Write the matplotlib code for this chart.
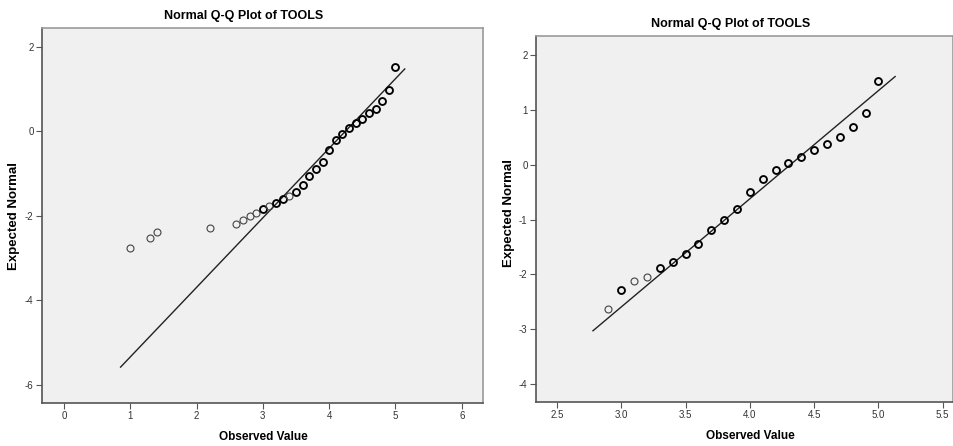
import matplotlib
matplotlib.use("Agg")
import matplotlib.pyplot as plt

plt.rcParams['font.family'] = ['Liberation Sans Narrow', 'Liberation Sans', 'DejaVu Sans']
plt.rcParams['axes.unicode_minus'] = False

# left panel: observed values / expected normal
left_x = [1.0, 1.3, 1.4, 2.2, 2.6, 2.7, 2.8, 2.9, 3.0, 3.1, 3.2, 3.3, 3.4, 3.5, 3.6,
          3.7, 3.8, 3.9, 4.0, 4.1, 4.2, 4.3, 4.4, 4.5, 4.6, 4.7, 4.8, 4.9, 5.0]
left_y = [-2.77, -2.53, -2.39, -2.28, -2.19, -2.09, -2.01, -1.93, -1.84, -1.76, -1.70,
          -1.61, -1.53, -1.43, -1.27, -1.06, -0.88, -0.73, -0.44, -0.20, -0.05, 0.08,
          0.19, 0.30, 0.43, 0.54, 0.71, 0.98, 1.53]
left_bold = [False, False, False, False, False, False, False, False, True, False, True,
             True, False, True, True, True, True, True, True, True, True, True,
             True, True, True, True, True, True, True]
left_line_x = [0.855, 5.14]
left_line_y = [-5.58, 1.48]

# right panel
right_x = [2.9, 3.0, 3.1, 3.2, 3.3, 3.4, 3.5, 3.6, 3.7, 3.8, 3.9,
           4.0, 4.1, 4.2, 4.3, 4.4, 4.5, 4.6, 4.7, 4.8, 4.9, 5.0]
right_y = [-2.64, -2.29, -2.13, -2.04, -1.89, -1.77, -1.63, -1.44, -1.19, -1.00, -0.81,
           -0.50, -0.26, -0.10, 0.03, 0.15, 0.27, 0.38, 0.51, 0.68, 0.95, 1.52]
right_bold = [False, True, False, False, True, True, True, True, True, True, True,
              True, True, True, True, True, True, True, True, True, True, True]
right_line_x = [2.78, 5.13]
right_line_y = [-3.03, 1.61]

title = "Normal Q-Q Plot of TOOLS"

fig = plt.figure(figsize=(9.54, 4.46), dpi=100)
W, H = 954, 446


def make_axes(l, t, r, b):
    return fig.add_axes([l / W, 1 - b / H, (r - l) / W, (b - t) / H])


def style(ax):
    ax.set_facecolor('#f0f0f0')
    for s in ['top', 'right']:
        ax.spines[s].set_color('#9a9a9a')
        ax.spines[s].set_linewidth(1.2)
    for s in ['left', 'bottom']:
        ax.spines[s].set_color('#555555')
        ax.spines[s].set_linewidth(1.2)
    ax.tick_params(direction='out', length=4, width=0.8, color='#555555',
                   labelsize=7, labelcolor='#333333', pad=2)


def draw(ax, xs, ys, bold, lx, ly):
    ax.plot(lx, ly, color='#222222', lw=1.0, zorder=2)
    for x, y, b in zip(xs, ys, bold):
        if b:
            ax.plot(x, y, 'o', ms=5.0, mfc='none', mec='black', mew=1.35, zorder=3)
        else:
            ax.plot(x, y, 'o', ms=5.0, mfc='none', mec='#444444', mew=0.8, zorder=3)


ax1 = make_axes(42, 28, 483, 403)
style(ax1)
draw(ax1, left_x, left_y, left_bold, left_line_x, left_line_y)
ax1.set_xlim(-0.33, 6.32)
ax1.set_ylim(-6.43, 2.45)
ax1.set_xticks([0, 1, 2, 3, 4, 5, 6])
ax1.set_yticks([-6, -4, -2, 0, 2])

ax2 = make_axes(536, 36, 953, 402)
style(ax2)
draw(ax2, right_x, right_y, right_bold, right_line_x, right_line_y)
ax2.set_xlim(2.337, 5.58)
ax2.set_ylim(-4.33, 2.35)
ax2.set_xticks([2.5, 3.0, 3.5, 4.0, 4.5, 5.0, 5.5])
ax2.set_xticklabels(['2.5', '3.0', '3.5', '4.0', '4.5', '5.0', '5.5'])
ax2.set_yticks([-4, -3, -2, -1, 0, 1, 2])

# titles and axis labels
fig.text(244 / W, 1 - 16 / H, title, ha='center', va='center', fontsize=9, fontweight='bold')
fig.text(731 / W, 1 - 24 / H, title, ha='center', va='center', fontsize=9, fontweight='bold')
fig.text(263 / W, 1 - 437 / H, 'Observed Value', ha='center', va='center', fontsize=8.5, fontweight='bold')
fig.text(750 / W, 1 - 436 / H, 'Observed Value', ha='center', va='center', fontsize=8.5, fontweight='bold')
fig.text(14 / W, 1 - 216 / H, 'Expected Normal', ha='center', va='center', rotation=90,
         fontsize=9.5, fontweight='bold')
fig.text(509 / W, 1 - 213 / H, 'Expected Normal', ha='center', va='center', rotation=90,
         fontsize=9.5, fontweight='bold')

fig.savefig('out.png', dpi=100, facecolor='white')
